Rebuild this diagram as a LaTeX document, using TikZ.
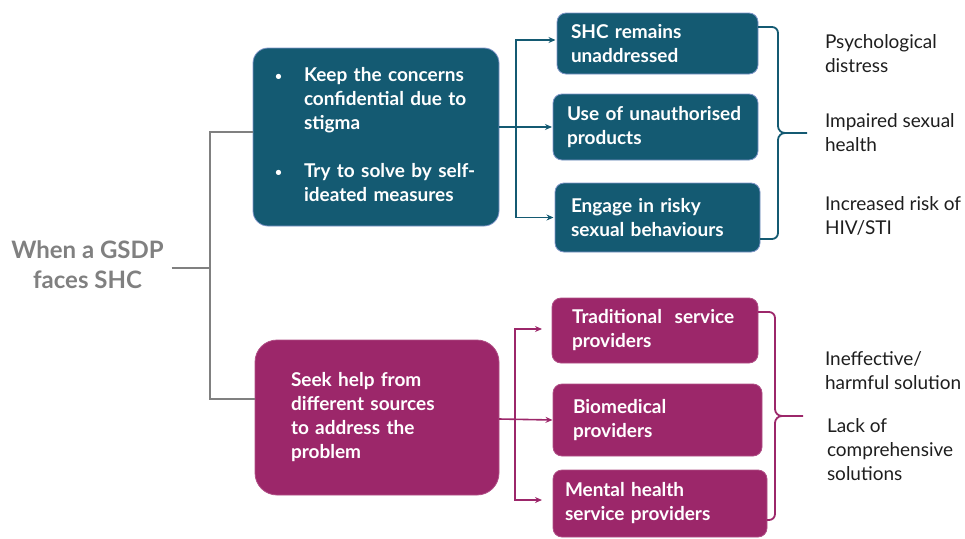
\documentclass[tikz,border=0pt]{standalone}
\usepackage{fontspec}
\setmainfont{Lato}
\usetikzlibrary{arrows.meta}

\definecolor{gsTeal}{HTML}{145A72}
\definecolor{gsTealEdge}{HTML}{7F95C8}
\definecolor{gsPlum}{HTML}{9C276A}
\definecolor{gsPlumEdge}{HTML}{B04F86}
\definecolor{gsGrey}{HTML}{808080}
\definecolor{gsInk}{HTML}{1E1E1E}

\newcommand{\gsbullet}{\raisebox{1.5pt}{\fontsize{12}{12}\selectfont\textbullet}}

\begin{document}
\begin{tikzpicture}[x=1pt,y=-1pt,
  every node/.style={inner sep=0pt,outer sep=0pt},
  boxfont/.style={font=\bfseries\fontsize{19}{24}\selectfont},
  tealbox/.style={boxfont,fill=gsTeal,draw=gsTealEdge,line width=0.8pt,text=white,align=left},
  plumbox/.style={boxfont,fill=gsPlum,draw=gsPlumEdge,line width=0.8pt,text=white,align=left},
  outcome/.style={font=\fontsize{19}{24}\selectfont,text=gsInk,align=left,anchor=west},
  greyline/.style={draw=gsGrey,line width=1.6pt},
  tealarrow/.style={draw=gsTeal,line width=1.6pt,-{Stealth[length=7pt,width=6pt]}},
  plumarrow/.style={draw=gsPlum,line width=1.6pt,-{Stealth[length=7pt,width=6pt]}},
  tealbrace/.style={draw=gsTeal,line width=1.8pt},
  plumbrace/.style={draw=gsPlum,line width=1.8pt},
]
\useasboundingbox (0,0) rectangle (965,538);

% starting point
\node[font=\bfseries\fontsize{24}{30}\selectfont,text=gsGrey,align=center]
  (who) at (87.5,265) {When a GSDP\\faces SHC};

% the two reactions
\node[tealbox,rounded corners=15pt,minimum height=178,text width=202,inner xsep=22]
  (t0) at (376,137) {%
  \begin{tabular}{@{}p{29pt}@{}l@{}}
  \gsbullet & Keep the concerns\\
            & confidential due to\\
            & stigma\\[24pt]
  \gsbullet & Try to solve by self-\\
            & ideated measures
  \end{tabular}};
\node[plumbox,rounded corners=22pt,minimum height=155,text width=172,inner xsep=36]
  (m0) at (377,417.5) {Seek help from\\different sources\\to address the\\problem};

% consequences of keeping it hidden
\node[tealbox,rounded corners=9pt,minimum height=61,text width=173,inner xsep=14]
  (r1) at (657.5,43.5) {SHC remains\\unaddressed};
\node[tealbox,rounded corners=9pt,minimum height=66,text width=177,inner xsep=14]
  (r2) at (655.5,127) {Use of unauthorised\\products};
\node[tealbox,rounded corners=9pt,minimum height=69,text width=173,inner xsep=16]
  (r3) at (657.5,217.5) {Engage in risky\\sexual behaviours};

% sources of help
\node[plumbox,rounded corners=9pt,minimum height=65,text width=166,inner xsep=20]
  (b1) at (655,330.5) {Traditional\ \ service\\providers};
\node[plumbox,rounded corners=9pt,minimum height=72,text width=169,inner xsep=20]
  (b2) at (657.5,420) {Biomedical\\providers};
\node[plumbox,rounded corners=9pt,minimum height=67,text width=190,inner xsep=12]
  (b3) at (660,503.5) {Mental health\\service providers};

% outcomes
\node[outcome] (o1) at (825,54) {Psychological\\distress};
\node[outcome] (o2) at (825,133) {Impaired sexual\\health};
\node[outcome] (o3) at (825,216) {Increased risk of\\HIV/STI};
\node[outcome] (o4) at (825,371) {Ineffective/\\harmful solution};
\node[outcome] (o5) at (827,450) {Lack of\\comprehensive\\solutions};

% grey fork
\coordinate (gj) at (210,268);
\draw[greyline] ([xshift=8pt,yshift=-3pt]who.east) -- (gj);
\draw[greyline] ([yshift=5pt]t0.west) -| (gj) |- ([yshift=18.5pt]m0.west);

% teal fork
\coordinate (ts) at (516,127);
\draw[tealarrow,shorten >=1pt] ([yshift=10pt]t0.east) -- (r2.west);
\draw[tealarrow,shorten >=1.5pt] (ts) |- ([yshift=3.5pt]r1.west);
\draw[tealarrow,shorten >=1.5pt] (ts) |- (r3.west);

% plum fork
\coordinate (ms) at (515,419);
\draw[plumarrow,shorten >=0.5pt] ([yshift=-1.5pt]m0.east) -- (b2.west);
\draw[plumarrow,shorten >=10pt] (ms) |- ([yshift=1.5pt]b1.west);
\draw[plumarrow,shorten >=11pt] (ms) |- ([yshift=3.5pt]b3.west);

% teal brace
\coordinate (ttip) at (807,133);
\draw[tealbrace] ([yshift=16.5pt]r1.east) -- (772,27) to[out=0,in=90] (778,33)
  -- (778,126) to[out=-90,in=180] (785,133) -- (ttip);
\draw[tealbrace] ([yshift=-21.5pt]r3.east) -- (772,239) to[out=0,in=-90] (778,233)
  -- (778,140) to[out=90,in=180] (785,133);

% plum brace
\coordinate (ptip) at (803,416);
\draw[plumbrace] ([yshift=18.5pt]b1.east) -- (769,312) to[out=0,in=90] (775,318)
  -- (775,409) to[out=-90,in=180] (782,416) -- (ptip);
\draw[plumbrace] ([yshift=-16.5pt]b3.east) -- (769,520) to[out=0,in=-90] (775,514)
  -- (775,423) to[out=90,in=180] (782,416);
\end{tikzpicture}
\end{document}
